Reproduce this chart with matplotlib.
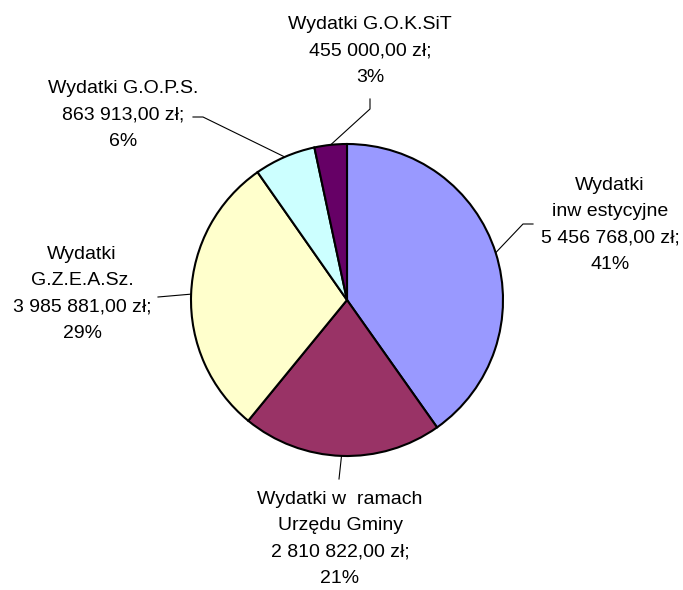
import numpy as np
import matplotlib
matplotlib.use("Agg")
import matplotlib.pyplot as plt

plt.rcParams["font.family"] = ["Liberation Sans", "DejaVu Sans"]

# Expenditure categories (clockwise from 12 o'clock)
names = ["Wydatki\ninw estycyjne", "Wydatki w  ramach\nUrzędu Gminy",
         "Wydatki\nG.Z.E.A.Sz.", "Wydatki G.O.P.S.", "Wydatki G.O.K.SiT"]
amounts = [5456768.00, 2810822.00, 3985881.00, 863913.00, 455000.00]
amount_labels = ["5 456 768,00 zł;", "2 810 822,00 zł;", "3 985 881,00 zł;",
                 "863 913,00 zł;", "455 000,00 zł;"]
pct_labels = ["41%", "21%", "29%", "6%", "3%"]
colors = ["#9999FF", "#993366", "#FFFFCC", "#CCFFFF", "#660066"]

W, H = 683, 590
fig = plt.figure(figsize=(W / 100, H / 100), dpi=100)
ax = fig.add_axes([0, 0, 1, 1])

cx, cy, r = 347, H - 300, 156
wedges, _ = ax.pie(amounts, colors=colors, startangle=90, counterclock=False,
                   center=(cx, cy), radius=r, frame=True,
                   wedgeprops=dict(edgecolor="black", linewidth=1.5))
ax.set_xlim(0, W)
ax.set_ylim(0, H)
ax.set_aspect("equal")
ax.axis("off")

# label text centre, elbow point, leader end near label (pixel layout, y from top)
label_pos = [(610, 225), (340, 539), (82, 294), (123, 115), (370, 51)]
elbows = [(523, 224), (339, 479), (158, 297), (203, 117), (370, 109)]
ends = [(533, 224), (339, 479), (158, 297), (193, 117), (370, 99)]

for w, name, amt, pct, lp, el, en in zip(wedges, names, amount_labels, pct_labels,
                                        label_pos, elbows, ends):
    mid = np.deg2rad((w.theta1 + w.theta2) / 2)
    px, py = cx + r * np.cos(mid), cy + r * np.sin(mid)
    ax.plot([px, el[0], en[0]], [py, H - el[1], H - en[1]], color="black", lw=0.8)
    ax.text(lp[0], H - lp[1], name + "\n" + amt + "\n" + pct, ha="center", va="center",
            fontsize=14, linespacing=1.72, color="black")

fig.savefig("out.png", dpi=100)
